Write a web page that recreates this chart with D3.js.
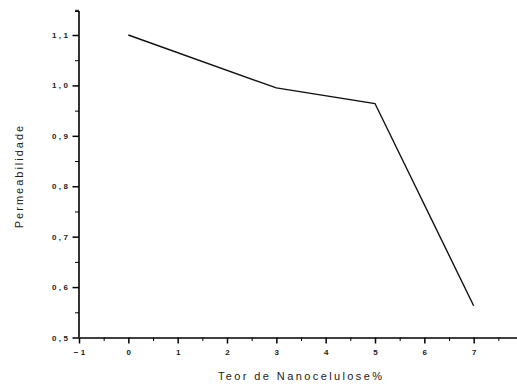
<!DOCTYPE html>
<html>
<head>
<meta charset="utf-8">
<script src="https://cdn.jsdelivr.net/npm/d3@7"></script>
<style>
  body { margin: 0; background: #fff; }
  svg { display: block; font-family: "Liberation Sans", Arial, sans-serif; }
  .axis path, .axis line { stroke: #000; }
  .axis text { fill: #222; font-size: 8px; font-weight: bold; letter-spacing: 2.5px; }
  .title { fill: #222; font-size: 11px; }
</style>
</head>
<body>
<script>
const WIDTH = 517;
const HEIGHT = 387;

// data
var teor = [0, 3, 5, 7];
var permeabilidade = [1.10, 0.995, 0.964, 0.563];
var xTicks = [-1, 0, 1, 2, 3, 4, 5, 6, 7];
var yTicks = [0.5, 0.6, 0.7, 0.8, 0.9, 1.0, 1.1];

var svg = d3.select('body').append('svg')
	.attr('width', WIDTH)
	.attr('height', HEIGHT);

var xScale = d3.scaleLinear()
	.domain([-1, 8])
	.range([79, 523]);

var yScale = d3.scaleLinear()
	.domain([0.5, 1.1])
	.range([337.5, 35]);

var fmt = function(d){ return d3.format('.1f')(d).replace('.', ','); };

// minor ticks first
svg.append('g')
	.attr('class', 'axis')
	.attr('transform', 'translate(0,337.5)')
	.call(d3.axisBottom(xScale).tickValues(d3.range(-0.5, 8, 1)).tickSize(3.5).tickFormat(''))
	.select('.domain').remove();

svg.append('g')
	.attr('class', 'axis')
	.attr('transform', 'translate(79,0)')
	.call(d3.axisLeft(yScale).tickValues(d3.range(0.55, 1.16, 0.1)).tickSize(4).tickFormat(''))
	.select('.domain').remove();

var xAxis = svg.append('g')
	.attr('class', 'axis')
	.attr('transform', 'translate(0,337.5)')
	.call(d3.axisBottom(xScale).tickValues(xTicks).tickSize(6).tickSizeOuter(0).tickPadding(6).tickFormat(d3.format('d')));
xAxis.select('.domain').attr('stroke-width', 1.6);
xAxis.selectAll('.tick line').attr('stroke-width', 1.5);
xAxis.selectAll('.tick text').attr('dx', 1.25);

var yAxis = svg.append('g')
	.attr('class', 'axis')
	.attr('transform', 'translate(79,0)')
	.call(d3.axisLeft(yScale).tickValues(yTicks).tickSize(6.5).tickSizeOuter(0).tickPadding(2).tickFormat(fmt));
yAxis.select('.domain').remove();
yAxis.append('line')
	.attr('x1', 0).attr('x2', 0)
	.attr('y1', yScale(0.5)).attr('y2', 11)
	.attr('stroke', '#000')
	.attr('stroke-width', 1.6);
yAxis.append('line')
	.attr('x1', 0).attr('x2', -4)
	.attr('y1', 11.5).attr('y2', 11.5)
	.attr('stroke', '#000');
yAxis.selectAll('.tick line').attr('stroke-width', 1.5);

var line = d3.line()
	.x(function(d, i){ return xScale(teor[i]); })
	.y(function(d){ return yScale(d); });

svg.append('path')
	.datum(permeabilidade)
	.attr('d', line)
	.attr('fill', 'none')
	.attr('stroke', '#111')
	.attr('stroke-width', 1.4);

svg.append('text')
	.attr('class', 'title')
	.attr('x', 301.2)
	.attr('y', 380)
	.attr('text-anchor', 'middle')
	.style('letter-spacing', '2.4px')
	.text('Teor de Nanocelulose%');

svg.append('text')
	.attr('class', 'title')
	.attr('transform', 'translate(23,176) rotate(-90)')
	.attr('text-anchor', 'middle')
	.style('letter-spacing', '2px')
	.text('Permeabilidade');
</script>
</body>
</html>
